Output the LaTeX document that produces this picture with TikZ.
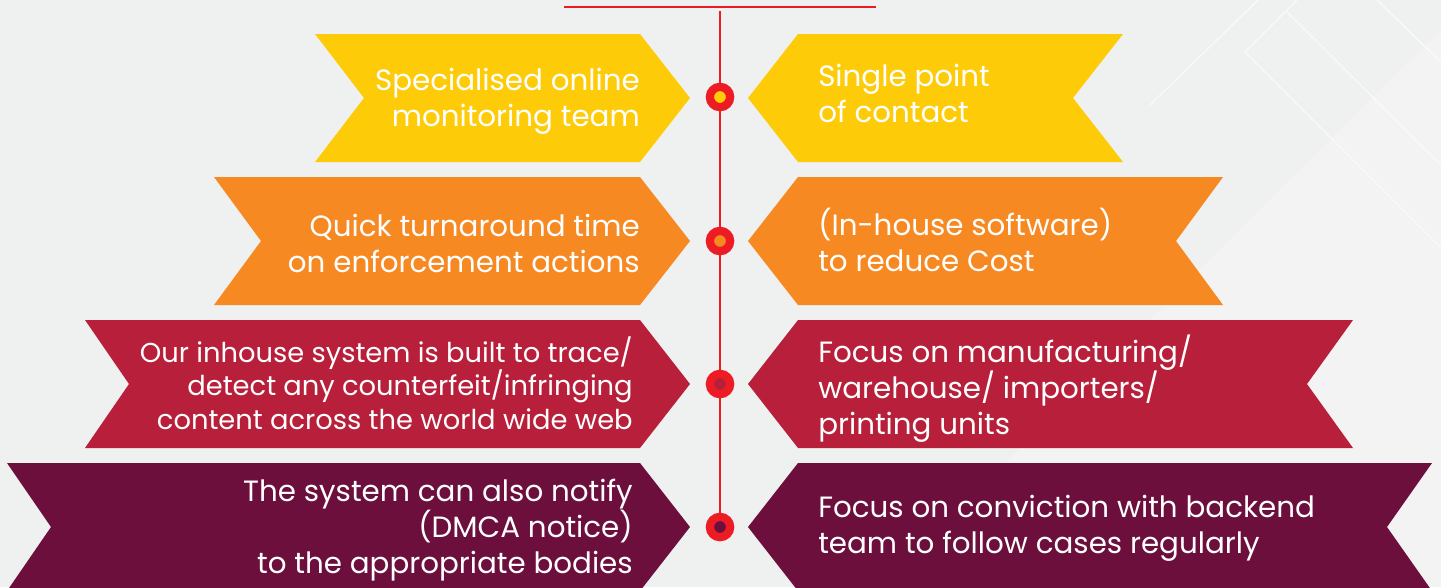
\documentclass[tikz,border=0pt]{standalone}
\usepackage{fontspec}
\setmainfont{Poppins}
\definecolor{bg}{RGB}{239,240,240}
\definecolor{cyel}{RGB}{254,203,8}
\definecolor{corg}{RGB}{246,137,34}
\definecolor{ccrm}{RGB}{183,31,58}
\definecolor{cmar}{RGB}{108,15,60}
\definecolor{cred}{RGB}{237,28,36}
\tikzset{
  ltxt/.style={anchor=east,align=right,text=white,font=\fontsize{22}{27}\selectfont,inner sep=0pt},
  rtxt/.style={anchor=west,align=left,text=white,font=\fontsize{22}{27}\selectfont,inner sep=0pt},
  dot/.style={circle,draw=cred,line width=6.2pt,minimum size=15.2pt,inner sep=0pt},
  redline/.style={draw=cred,line width=2pt},
  bgline/.style={draw=white,opacity=0.6,line width=1pt}
}
% left banner: #1 color, #2 top y, #3 left x, #4 notch x
\newcommand{\lban}[4]{\fill[#1] (#3,#2) -- (640,#2) -- (690,#2+64) -- (640,#2+128) -- (#3,#2+128) -- (#4,#2+64) -- cycle;}
\newcommand{\rban}[4]{\fill[#1] (#3,#2) -- (798,#2) -- (748,#2+64) -- (798,#2+128) -- (#3,#2+128) -- (#4,#2+64) -- cycle;}
\begin{document}
\begin{tikzpicture}[x=0.75pt,y=-0.75pt]
\useasboundingbox (0,0) rectangle (1441,587);
\clip (0,0) rectangle (1441,587);
\fill[bg] (0,0) rectangle (1441,587);
\fill[white,opacity=0.25] (1441,30) -- (1441,587) -- (880,587) -- cycle;
\draw[bgline] (1150,105) -- (1258,0);
\draw[bgline] (1245,52) -- (1297,0);
\draw[bgline] (1245,52) -- (1441,248);
\draw[bgline] (1287,12) -- (1441,165);
\draw[bgline] (1377,0) -- (1441,62);
% banners
\lban{cyel}{34}{315}{364}
\rban{cyel}{34}{1123}{1073}
\lban{corg}{177}{214}{261}
\rban{corg}{177}{1223}{1176}
\lban{ccrm}{320}{85}{129}
\rban{ccrm}{320}{1353}{1307}
\lban{cmar}{463}{7}{51}
\rban{cmar}{463}{1432}{1387}
% timeline
\coordinate (hl) at (564,7);
\coordinate (hr) at (876,7);
\coordinate (vtop) at (720,11);
\draw[redline] (hl) -- (hr);
\node[dot,fill=cyel] (d1) at (720,97) {};
\node[dot,fill=corg] (d2) at (720,241) {};
\node[dot,fill=ccrm] (d3) at (720,384) {};
\node[dot,fill=cmar] (d4) at (720,527) {};
\draw[redline] (vtop) -- (d1) (d1) -- (d2) (d2) -- (d3) (d3) -- (d4);
% texts
\node[ltxt] (t1l) at (640,101) {Specialised online\\monitoring team};
\node[rtxt] (t1r) at (818,93) {Single point\\of contact};
\node[ltxt] (t2l) at (640,243) {Quick turnaround time\\on enforcement actions};
\node[rtxt] (t2r) at (818,240) {(In-house software)\\to reduce Cost};
\node[ltxt,font=\fontsize{20.5}{25}\selectfont] (t3l) at (633,383) {Our inhouse system is built to trace/\\detect any counterfeit/infringing\\content across the world wide web};
\node[rtxt] (t3r) at (818,389) {Focus on manufacturing/\\warehouse/ importers/\\printing units};
\node[ltxt] (t4l) at (633,530) {The system can also notify\\(DMCA notice)\\to the appropriate bodies};
\node[rtxt] (t4r) at (818,528) {Focus on conviction with backend\\team to follow cases regularly};
\end{tikzpicture}
\end{document}
